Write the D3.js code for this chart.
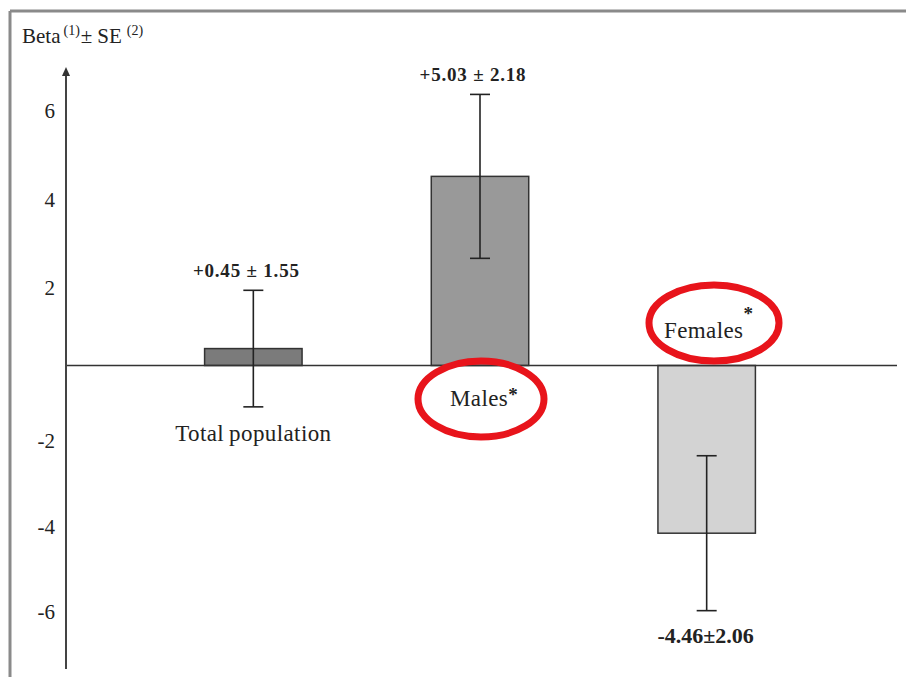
<!DOCTYPE html>
<html>
<head>
<meta charset="utf-8">
<script src="https://cdn.jsdelivr.net/npm/d3@7"></script>
<style>
html,body{margin:0;padding:0;background:#fff;}
svg{display:block;}
</style>
</head>
<body>
<svg id="chart" width="906" height="677"></svg>
<script>
// ---- data ----
const categories = ["Total population", "Males", "Females"];
const betaValues = [0.45, 5.03, -4.46];
const seValues = [1.55, 2.18, 2.06];
const valueLabels = ["+0.45 \u00b1 1.55", "+5.03 \u00b1 2.18", "-4.46\u00b12.06"];
const tickValues = [6, 4, 2, -2, -4, -6];
const barColors = ["#7b7b7b", "#999999", "#d3d3d3"];
const highlighted = [false, true, true];

const svg = d3.select("#chart");
const serif = "'Liberation Serif','Times New Roman',serif";

// frame (top & left only visible)
svg.append("line").attr("x1", 10).attr("x2", 906).attr("y1", 11).attr("y2", 11)
  .attr("stroke", "#8a8a8a").attr("stroke-width", 3);
svg.append("line").attr("x1", 10).attr("x2", 10).attr("y1", 11).attr("y2", 677)
  .attr("stroke", "#8a8a8a").attr("stroke-width", 3);

// scales
const y = d3.scaleLinear().domain([-8, 8]).range([666.3, 64.7]);
// tick labels in the original are not aligned with the data scale
const yLabel = d3.scaleLinear().domain([-6, -2, 2, 6]).range([612, 441, 288, 111]);
const x = d3.scaleBand().domain(categories).range([140, 820]).paddingInner(0.57).paddingOuter(0.285);
const axisX = 66;

// bars
svg.selectAll("rect.bar").data(categories).join("rect")
  .attr("class", "bar")
  .attr("x", d => x(d))
  .attr("width", x.bandwidth())
  .attr("y", (d, i) => y(Math.max(0, betaValues[i])))
  .attr("height", (d, i) => Math.abs(y(betaValues[i]) - y(0)))
  .attr("fill", (d, i) => barColors[i])
  .attr("stroke", "#333").attr("stroke-width", 1.5);

// zero line
svg.append("line").attr("x1", axisX).attr("x2", 897).attr("y1", y(0)).attr("y2", y(0))
  .attr("stroke", "#333").attr("stroke-width", 1.5);

// error bars
const eb = svg.append("g").attr("stroke", "#222").attr("stroke-width", 1.6);
categories.forEach((c, i) => {
  const cx = x(c) + x.bandwidth() / 2;
  const hi = y(betaValues[i] + seValues[i]);
  const lo = y(betaValues[i] - seValues[i]);
  eb.append("line").attr("x1", cx).attr("x2", cx).attr("y1", hi).attr("y2", lo);
  eb.append("line").attr("x1", cx - 10).attr("x2", cx + 10).attr("y1", hi).attr("y2", hi);
  eb.append("line").attr("x1", cx - 10).attr("x2", cx + 10).attr("y1", lo).attr("y2", lo);
});

// y axis (labels only, with arrow)
const axis = d3.axisLeft(yLabel).tickValues(tickValues).tickSize(0).tickPadding(10).tickFormat(d => String(d));
const gAxis = svg.append("g").attr("transform", `translate(${axisX - 1},0)`).call(axis);
gAxis.select(".domain").remove();
gAxis.selectAll("text").attr("font-family", serif).attr("font-size", 21).attr("fill", "#222");
svg.append("line").attr("x1", axisX).attr("x2", axisX).attr("y1", 669).attr("y2", 72)
  .attr("stroke", "#444").attr("stroke-width", 2);
svg.append("path").attr("d", `M${axisX},67 L${axisX - 4},76 L${axisX + 4},76 Z`).attr("fill", "#333");

// title
const title = svg.append("text").attr("x", 22).attr("y", 43)
  .attr("font-family", serif).attr("font-size", 21).attr("fill", "#222");
title.append("tspan").text("Beta");
title.append("tspan").attr("font-size", 14).attr("dy", -8).attr("dx", 3).text("(1)");
title.append("tspan").attr("dy", 8).attr("dx", 1).text("\u00b1");
title.append("tspan").attr("dx", 5).text("SE");
title.append("tspan").attr("font-size", 14).attr("dy", -8).attr("dx", 5).text("(2)");

// value labels
categories.forEach((c, i) => {
  const cx = x(c) + x.bandwidth() / 2;
  const yy = betaValues[i] >= 0 ? y(betaValues[i] + seValues[i]) - 13 : y(betaValues[i] - seValues[i]) + 32;
  svg.append("text").attr("x", cx - 7 + (i === 2 ? 6 : 0)).attr("y", yy)
    .attr("text-anchor", "middle").attr("font-family", serif).attr("font-weight", "bold")
    .attr("font-size", i === 2 ? 22 : 19).attr("letter-spacing", i === 2 ? 0 : 0.8)
    .attr("fill", "#222").text(valueLabels[i]);
});

// category labels
const catPos = [
  {dx: 0, y: 441},
  {dx: 4, y: 406},
  {dx: 2, y: 338}
];
categories.forEach((c, i) => {
  const cx = x(c) + x.bandwidth() / 2 + catPos[i].dx;
  const t = svg.append("text").attr("x", cx).attr("y", catPos[i].y)
    .attr("text-anchor", "middle").attr("font-family", serif).attr("font-size", 23)
    .attr("letter-spacing", 0.4).attr("fill", "#222");
  t.append("tspan").text(c === "Total population" ? "Total\u2009population" : c);
  if (highlighted[i]) {
    t.append("tspan").attr("font-weight", "bold").attr("font-size", 19)
      .attr("dy", i === 2 ? -18 : -5).text("*");
  }
});

// red ellipses
const ellipses = [null, {cx: 481, cy: 399, rx: 63, ry: 38}, {cx: 714, cy: 323, rx: 65, ry: 38}];
ellipses.forEach(e => {
  if (!e) return;
  svg.append("ellipse").attr("cx", e.cx).attr("cy", e.cy).attr("rx", e.rx).attr("ry", e.ry)
    .attr("fill", "none").attr("stroke", "#e8141b").attr("stroke-width", 7);
});
</script>
</body>
</html>
